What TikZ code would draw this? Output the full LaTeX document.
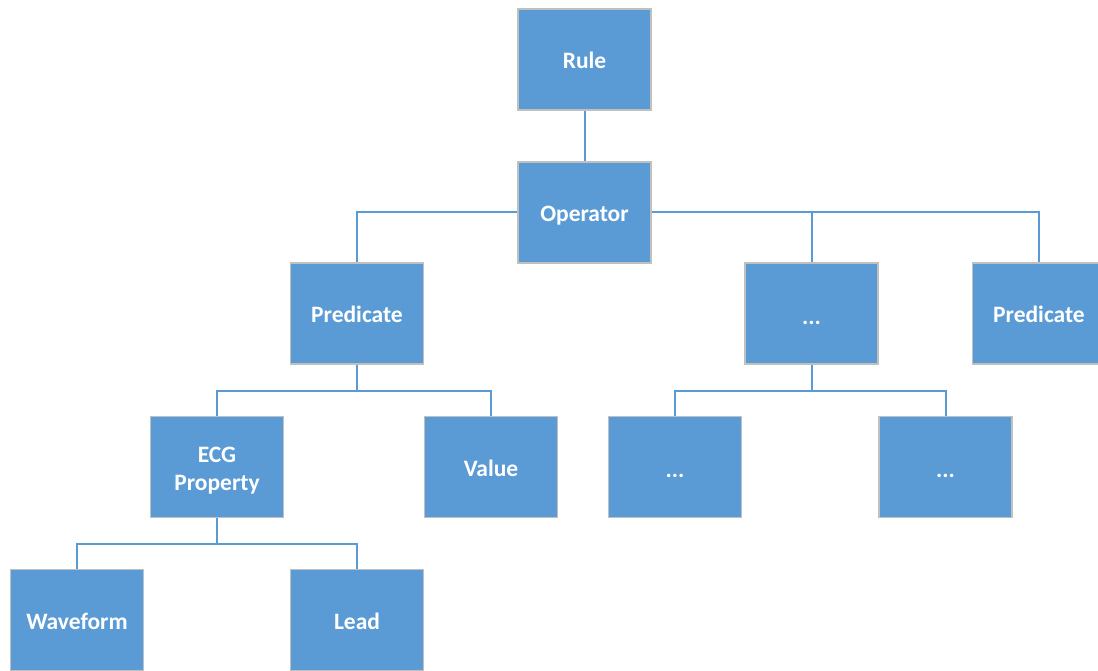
\documentclass[tikz,border=0pt]{standalone}
\usepackage{fontspec}
\setmainfont{Carlito}
\definecolor{boxblue}{HTML}{5B9BD5}
\definecolor{boxedge}{HTML}{C0C0C0}
\newcommand\lbl[2][-9pt]{\raisebox{#1}[0pt][0pt]{#2}}
\begin{document}
\begin{tikzpicture}[x=1pt,y=-1pt,
  box/.style={draw=boxedge, line width=1.2pt, fill=boxblue, minimum width=133pt, minimum height=101pt,
    inner sep=0pt, align=center, text=white,
    font=\fontsize{23.5}{28.3}\selectfont\bfseries},
  link/.style={draw=boxblue, line width=2pt}]
\useasboundingbox (0,0) rectangle (1098,671);
\clip (0,0) rectangle (1098,671);
\node[box] (rule) at (584.5,59.5) {\lbl{Rule}};
\node[box] (op) at (584.5,212.5) {\lbl{Operator}};
\node[box] (pred) at (357,313.5) {\lbl{Predicate}};
\node[box] (dots) at (811.5,313.5) {\lbl[-10.5pt]{...}};
\node[box] (pred2) at (1039,313.5) {\lbl{Predicate}};
\node[box] (ecg) at (217,467) {\lbl[-9.2pt]{ECG}\\\lbl[-9.2pt]{Property}};
\node[box] (val) at (491,467) {\lbl{Value}};
\node[box] (d1) at (675,467) {\lbl[-10.5pt]{...}};
\node[box] (d2) at (945.5,467) {\lbl[-10.5pt]{...}};
\node[box] (wave) at (77,620) {\lbl{Waveform}};
\node[box] (lead) at (357,620) {\lbl{Lead}};
\draw[link] (rule.south) -- (op.north);
\draw[link] (op.west) -| (pred.north);
\draw[link] (op.east) -| (pred2.north);
\draw[link] (dots.north) -- (dots.north |- op.east);
\draw[link] (pred.south) -- ++(0,26.5) -| (ecg.north);
\draw[link] (pred.south) ++(0,26.5) -| (val.north);
\draw[link] (dots.south) -- ++(0,26.5) -| (d1.north);
\draw[link] (dots.south) ++(0,26.5) -| (d2.north);
\draw[link] (ecg.south) -- ++(0,26) -| (wave.north);
\draw[link] (ecg.south) ++(0,26) -| (lead.north);
\end{tikzpicture}
\end{document}
